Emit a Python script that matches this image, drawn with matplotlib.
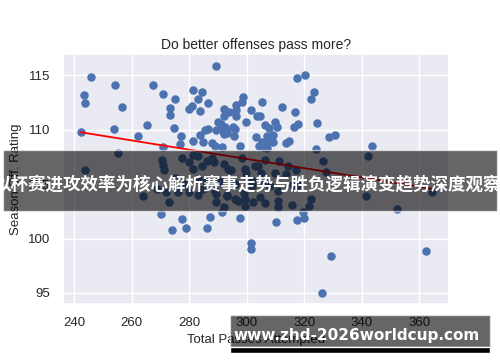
import numpy as np
import matplotlib
matplotlib.use("Agg")
import matplotlib.pyplot as plt
import seaborn as sns
from matplotlib.patches import Rectangle

# total passes per game vs season offensive rating
passes = [246.1, 254.2, 243.4, 243.9, 256.6, 267.3, 270.9, 275.2, 273.2, 273.3,
          280.1, 280.9, 281.5, 253.9, 242.4, 265.3, 262.3, 274.9, 277.3, 281.3,
          276.9, 270.8, 289.5, 317.5, 320.1, 284.5, 283.1, 286.7, 283.8, 298.7,
          298.4, 305.3, 323.3, 322.5, 296.3, 296.2, 296.2, 292.3, 293.9, 292.1,
          301.6, 303.7, 304.7, 312.2, 316.8, 299.7, 290.1, 291.0, 295.4, 285.4,
          286.7, 283.8, 284.7, 289.2, 295.6, 306.3, 307.6, 309.7, 310.6, 316.3,
          317.7, 324.6, 303.3, 307.2, 309.1, 305.4, 307.9, 309.2, 288.0, 288.9,
          291.3, 297.8, 304.2, 305.6, 307.1, 313.7, 314.8, 324.1, 328.5, 330.6,
          343.7, 292.4, 293.0, 291.8, 292.8, 293.3, 292.2, 295.9,
          255.3, 277.7, 270.7, 271.1, 271.4, 243.8, 281.3, 280.1, 281.3, 283.0,
          284.4, 286.1, 287.8, 288.6, 292.2, 293.6, 294.7, 298.5, 299.3, 299.9,
          302.8, 326.4, 327.5, 342.2, 311.1, 314.4, 317.0, 313.6, 309.7, 306.2,
          303.9, 305.1,
          270.2, 277.6, 279.0, 274.0, 286.1, 287.3, 291.6, 297.8, 301.4, 301.4,
          310.3, 317.6, 320.0, 319.4, 326.2, 329.2, 362.2,
          264.1, 272.1, 273.0, 278.3, 279.8, 289.3, 289.3, 292.0, 293.3, 295.9,
          297.0, 299.3, 299.3, 302.2, 304.5, 306.2, 310.8, 310.9, 315.6, 321.8,
          322.2, 341.5, 352.2, 364.3,
          283.0, 290.0, 296.0, 302.0, 308.0, 285.0, 275.0, 318.0,
          269.0, 276.0, 279.0, 283.0, 286.0, 289.0, 291.0, 293.0, 296.0, 299.0,
          302.0, 306.0, 311.0, 316.0]
off_rating = [114.9, 114.1, 113.2, 112.5, 112.1, 114.1, 113.3, 112.8, 112.0, 111.4,
              111.9, 112.2, 113.7, 110.1, 109.8, 110.4, 109.4, 110.2, 109.4, 109.0,
              108.7, 108.4, 115.9, 114.8, 115.0, 113.5, 112.8, 112.5, 111.7, 113.0,
              112.6, 112.6, 113.5, 112.8, 112.3, 111.8, 111.3, 111.9, 111.6, 111.3,
              111.8, 111.3, 111.3, 112.1, 111.6, 110.7, 110.7, 110.5, 110.3, 110.0,
              110.1, 109.5, 108.9, 110.0, 109.4, 110.4, 110.2, 110.7, 110.3, 110.3,
              110.5, 110.6, 109.3, 109.4, 109.5, 108.9, 108.9, 108.9, 108.8, 108.5,
              108.4, 108.5, 108.5, 108.4, 108.3, 108.8, 109.0, 108.2, 109.3, 109.5,
              108.5, 110.3, 110.0, 109.9, 109.8, 109.7, 109.6, 110.1,
              107.9, 107.4, 107.2, 106.8, 106.3, 106.3, 107.7, 107.0, 106.4, 107.6,
              106.7, 107.1, 107.4, 107.0, 106.9, 106.4, 106.3, 107.4, 106.4, 106.0,
              106.7, 107.1, 106.1, 107.6, 107.1, 106.7, 106.3, 105.9, 106.0, 107.2,
              106.7, 106.0,
              102.3, 101.8, 101.0, 100.8, 101.0, 102.0, 102.4, 101.9, 99.6, 99.0,
              101.5, 101.7, 101.9, 102.4, 95.0, 98.4, 98.9,
              103.9, 104.3, 103.4, 104.9, 104.3, 104.1, 103.4, 102.9, 104.0, 103.6,
              103.5, 103.6, 103.0, 103.4, 103.8, 103.3, 103.5, 102.9, 103.1, 103.0,
              103.6, 103.9, 102.7, 104.3,
              105.5, 105.2, 105.0, 105.3, 104.8, 104.6, 105.6, 104.9,
              104.6, 104.3, 105.0, 104.0, 105.2, 104.4, 105.3, 103.9, 105.0, 104.2,
              104.8, 105.2, 104.4, 104.9]

sns.set_theme(style="darkgrid")
plt.rcParams['font.family'] = ['Liberation Sans', 'DejaVu Sans']

fig = plt.figure(figsize=(5, 3.62), dpi=100)
ax = fig.add_axes([0.1266, 0.1594, 0.772, 0.6906])

sns.regplot(x=np.array(passes), y=np.array(off_rating), ax=ax, ci=None,
            scatter_kws={"s": 26, "color": "#4c72b0", "alpha": 1},
            line_kws={"color": "red", "lw": 1.3})

ax.set_title("Do better offenses pass more?", fontsize=10, pad=4)
ax.set_xlabel("Total Passes Attempted", fontsize=9.5, labelpad=3)
ax.set_ylabel("Season Off. Rating", fontsize=9.5)
ax.set_xticks([240, 260, 280, 300, 320, 340, 360])
ax.set_yticks([95, 100, 105, 110, 115])
ax.tick_params(labelsize=9.5)

# watermark overlays
fig.patches.append(Rectangle((0.006, 0.417), 0.988, 0.169, transform=fig.transFigure,
                             facecolor="black", alpha=0.6, zorder=10))
fig.text(0.496, 0.489, "以杯赛进攻效率为核心解析赛事走势与胜负逻辑演变趋势深度观察",
         family=['Noto Sans CJK SC', 'DejaVu Sans'], fontweight="bold",
         fontsize=12.6, color="white", ha="center", va="center", zorder=11)
fig.patches.append(Rectangle((0.46, 0.0414), 0.52, 0.0884, transform=fig.transFigure,
                             facecolor="black", alpha=0.6, zorder=10))
fig.patches.append(Rectangle((0.46, 0.0249), 0.52, 0.0165, transform=fig.transFigure,
                             facecolor="black", zorder=10))
fig.text(0.713, 0.072, "www.zhd-2026worldcup.com", family=['DejaVu Sans'],
         fontweight="bold", fontsize=11, color="white", ha="center", va="center",
         zorder=11)

fig.savefig("out.png", dpi=100)
